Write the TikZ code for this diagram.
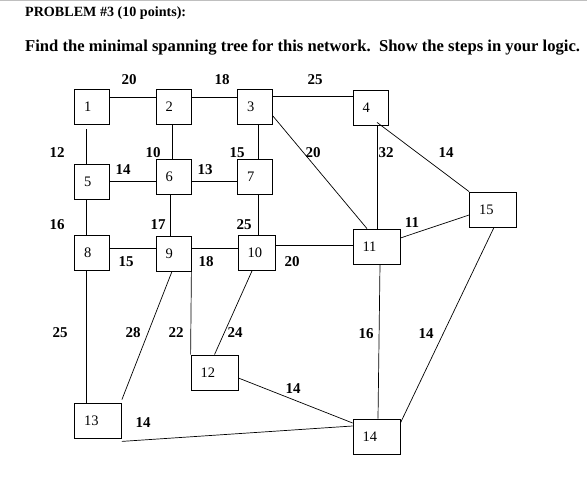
\documentclass[tikz,border=0pt]{standalone}
\usepackage{fontspec}
\setmainfont{Liberation Serif}
\usetikzlibrary{positioning}
\tikzset{
  station/.style={draw, line width=0.8pt, minimum height=35pt, text width=16pt,
    inner xsep=9.5pt, inner ysep=0pt, align=left, font=\fontsize{14.5}{16}\selectfont},
  wide/.style={text width=28pt},
  wt/.style={font=\bfseries\fontsize{15}{17}\selectfont, inner sep=0pt},
  link/.style={line width=0.7pt},
}

\begin{document}
\begin{tikzpicture}[x=1pt, y=-1pt]
    \useasboundingbox (0,0) rectangle (587,485);
    \draw[black!25, line width=1pt] (0,0.5) -- (587,0.5);

    % heading
    \node[anchor=west, inner sep=0pt, font=\bfseries\fontsize{14.1}{16}\selectfont] (title) at (25,13) {PROBLEM \#3 (10 points):};
    \node[anchor=west, inner sep=0pt, font=\bfseries\fontsize{16.6}{19}\selectfont] (task) at (25,47) {Find the minimal spanning tree for this network.\ \ Show the steps in your logic.};

    % stations
    \node[station] (n1) at (92,106.5) {1};
    \node[station] (n2) at (173.5,106.5) {2};
    \node[station] (n3) at (255,106.5) {3};
    \node[station] (n4) at (370.5,107.5) {4};
    \node[station] (n5) at (92,181.5) {5};
    \node[station] (n6) at (173.5,176.5) {6};
    \node[station] (n7) at (255,176.5) {7};
    \node[station] (n8) at (92,252.5) {8};
    \node[station] (n9) at (173.5,253.5) {9};
    \node[station, text width=18pt] (n10) at (256.5,253) {10};
    \node[station, wide] (n11) at (376.5,246.5) {11};
    \node[station, wide] (n12) at (214.5,372.5) {12};
    \node[station, wide] (n13) at (98,420.5) {13};
    \node[station, wide] (n14) at (376.5,436.5) {14};
    \node[station, wide] (n15) at (493,209.5) {15};

    % links
    \draw[link] ([yshift=9.5pt]n1.east) -- ([yshift=9.5pt]n2.west);
    \draw[link] ([yshift=9.5pt]n2.east) -- ([yshift=9.5pt]n3.west);
    \draw[link] ([yshift=10.5pt]n3.east) -- ([yshift=11.5pt]n4.west);
    \draw[link] ([xshift=-6pt,yshift=-5pt]n1.south) -- ([xshift=-6pt]n5.north);
    \draw[link] ([xshift=-1.5pt]n2.south) -- ([xshift=-1.5pt]n6.north);
    \draw[link] ([xshift=3pt]n3.south) -- ([xshift=3pt]n7.north);
    \draw[link] (n5.east) -- (n6.west |- n5.east);
    \draw[link] ([yshift=-4.5pt]n6.east) -- ([yshift=-4.5pt]n7.west);
    \draw[link] ([xshift=-6pt]n5.south) -- ([xshift=-6pt]n8.north);
    \draw[link] ([xshift=-3.5pt]n6.south) -- ([xshift=-3.5pt]n9.north);
    \draw[link] ([xshift=3pt]n7.south) -- ([xshift=1.5pt]n10.north);
    \draw[link] ([yshift=4.5pt]n8.east) -- ([yshift=5.5pt]n9.west);
    \draw[link] ([yshift=5.5pt]n9.east) -- ([yshift=5pt]n10.west);
    \draw[link] ([yshift=8pt]n10.east) -- ([yshift=1.5pt]n11.west);
    \draw[link] ([xshift=-6pt]n8.south) -- ([xshift=-12pt]n13.north);
    \draw[link] ([xshift=-1.5pt]n9.south) -- ([yshift=3pt]n13.north east);
    \draw[link] (n9.south east) -- (n12.north west);
    \draw[link] ([xshift=-4.5pt]n10.south) -- (n12.north);
    \draw[link] ([yshift=-5.5pt]n12.east) -- ([yshift=13.5pt]n14.west);
    \draw[link] ([yshift=-3pt]n13.south east) -- ([yshift=10.5pt]n14.west);
    \draw[link] ([xshift=3.5pt]n11.south) -- ([xshift=1.5pt]n14.north);
    \draw[link] ([xshift=1pt]n15.south) -- ([yshift=13.5pt]n14.east);
    \draw[link] ([yshift=8.5pt]n11.east) -- ([yshift=-5.5pt]n15.west);
    \draw[link] ([xshift=6.5pt]n4.south) -- ([xshift=0.5pt]n11.north);
    \draw[link] ([xshift=6.5pt,yshift=3pt]n4.south) -- (n15.north west);
    \draw[link] ([yshift=-9.5pt]n3.east) -- ([xshift=-9.5pt]n11.north);

    % weights
    \node[wt] (w12) at (129,80) {20};
    \node[wt] (w23) at (222,80) {18};
    \node[wt] (w34) at (315,80) {25};
    \node[wt] (w15) at (57,153) {12};
    \node[wt] (w26) at (153,153) {10};
    \node[wt] (w37) at (237,153) {15};
    \node[wt] (w311) at (313,153) {20};
    \node[wt] (w411) at (386,153) {32};
    \node[wt] (w415) at (446,153) {14};
    \node[wt] (w56) at (123,170) {14};
    \node[wt] (w67) at (205,170) {13};
    \node[wt] (w1115) at (412,223) {11};
    \node[wt] (w58) at (57,225) {16};
    \node[wt] (w69) at (158,225) {17};
    \node[wt] (w710) at (244,225) {25};
    \node[wt] (w89) at (126,262) {15};
    \node[wt] (w910) at (206,262) {18};
    \node[wt] (w1011) at (292,262) {20};
    \node[wt] (w813) at (60,333) {25};
    \node[wt] (w913) at (133,333) {28};
    \node[wt] (w912) at (176,333) {22};
    \node[wt] (w1012) at (235,333) {24};
    \node[wt] (w1114) at (366,334) {16};
    \node[wt] (w1514) at (426,334) {14};
    \node[wt] (w1214) at (293,389) {14};
    \node[wt] (w1314) at (143,423) {14};
\end{tikzpicture}
\end{document}
